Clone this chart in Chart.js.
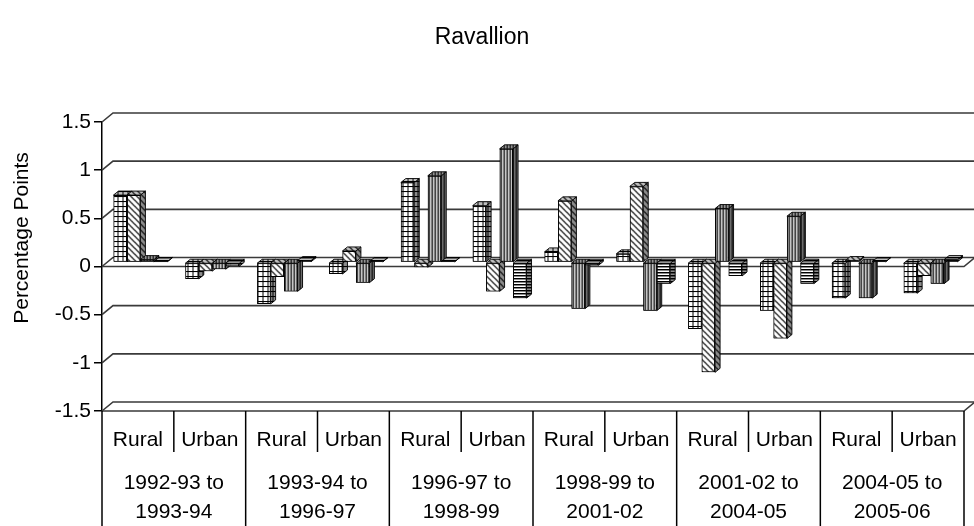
<!DOCTYPE html>
<html>
<head>
<meta charset="utf-8">
<title>Ravallion</title>
<script src="https://cdn.jsdelivr.net/npm/chart.js@4.4.1/dist/chart.umd.min.js"></script>
<style>
  html, body { margin: 0; padding: 0; background: #fff; }
  canvas { display: block; }
</style>
</head>
<body>
<canvas id="chart" width="974" height="526"></canvas>
<script>
// Category labels (inner level) and period labels (outer level)
const areas = ['Rural', 'Urban', 'Rural', 'Urban', 'Rural', 'Urban',
               'Rural', 'Urban', 'Rural', 'Urban', 'Rural', 'Urban'];
const periods = [
  ['1992-93 to', '1993-94'],
  ['1993-94 to', '1996-97'],
  ['1996-97 to', '1998-99'],
  ['1998-99 to', '2001-02'],
  ['2001-02 to', '2004-05'],
  ['2004-05 to', '2005-06']
];

// Four components, one value per area/period column (percentage points)
const gridSeries  = [0.70, -0.17, -0.43, -0.12, 0.83, 0.59, 0.11, 0.09, -0.69, -0.50, -0.37, -0.32];
const diagSeries  = [0.70, -0.09, -0.15, 0.12, -0.05, -0.30, 0.64, 0.79, -1.14, -0.79, 0.02, -0.14];
const vertSeries  = [0.03, -0.07, -0.30, -0.21, 0.90, 1.18, -0.48, -0.50, 0.56, 0.48, -0.37, -0.22];
const horizSeries = [0.01, -0.04, 0.02, 0.01, 0.01, -0.37, -0.03, -0.22, -0.14, -0.22, 0.01, 0.03];

const yTicks = { min: -1.5, max: 1.5, step: 0.5 };

const FONT = "'Liberation Sans', Arial, Helvetica, sans-serif";

// Monochrome fill patterns for the bars
function makePattern(kind) {
  const c = document.createElement('canvas');
  const g = c.getContext('2d');
  if (kind === 'grid') {
    c.width = 5; c.height = 5;
    g.fillStyle = '#fff'; g.fillRect(0, 0, 5, 5);
    g.fillStyle = '#000'; g.fillRect(0, 0, 5, 1); g.fillRect(0, 0, 1, 5);
  } else if (kind === 'diag') {
    c.width = 6; c.height = 6;
    g.fillStyle = '#fff'; g.fillRect(0, 0, 6, 6);
    g.strokeStyle = '#000'; g.lineWidth = 1.2;
    g.beginPath();
    g.moveTo(-1, -1); g.lineTo(7, 7);
    g.moveTo(-1, 5); g.lineTo(1, 7);
    g.moveTo(5, -1); g.lineTo(7, 1);
    g.stroke();
  } else if (kind === 'vert') {
    c.width = 3; c.height = 1;
    g.fillStyle = '#000'; g.fillRect(0, 0, 1, 1);
    g.fillStyle = '#8a8a8a'; g.fillRect(1, 0, 1, 1);
    g.fillStyle = '#fff'; g.fillRect(2, 0, 1, 1);
  } else {
    c.width = 1; c.height = 3;
    g.fillStyle = '#000'; g.fillRect(0, 0, 1, 1);
    g.fillStyle = '#8a8a8a'; g.fillRect(0, 1, 1, 1);
    g.fillStyle = '#fff'; g.fillRect(0, 2, 1, 1);
  }
  return g.createPattern(c, 'repeat');
}

const fills = [makePattern('grid'), makePattern('diag'), makePattern('vert'), makePattern('horiz')];

// Depth of the back wall and of each column
const WALL = { dx: 11, dy: -9 };
const BAR_SHIFT = { dx: 2.5, dy: -4 };
const BAR_DEPTH = { dx: 5, dy: 4 };

// Back wall, floor edges and gridlines in perspective
const wallPlugin = {
  id: 'wall',
  beforeDatasetsDraw(chart) {
    const { ctx, chartArea: a, scales: { y } } = chart;
    ctx.save();
    ctx.strokeStyle = '#3a3a3a';
    ctx.lineWidth = 1.6;
    for (let v = yTicks.min; v <= yTicks.max + 1e-9; v += yTicks.step) {
      const py = y.getPixelForValue(v);
      ctx.beginPath();
      ctx.moveTo(a.left, py);
      ctx.lineTo(a.left + WALL.dx, py + WALL.dy);
      ctx.lineTo(chart.width + 5, py + WALL.dy);
      ctx.stroke();
    }
    [0, yTicks.min].forEach(v => {
      const py = y.getPixelForValue(v);
      ctx.beginPath();
      ctx.moveTo(a.left, py);
      ctx.lineTo(a.right, py);
      ctx.lineTo(a.right + WALL.dx, py + WALL.dy);
      ctx.stroke();
    });
    ctx.restore();
    ctx.save();
    ctx.translate(BAR_SHIFT.dx, BAR_SHIFT.dy);
  },
  afterDatasetsDraw(chart) {
    const { ctx } = chart;
    const metas = chart.data.datasets.map((d, i) => chart.getDatasetMeta(i));
    const n = chart.data.labels.length;
    // Redraw each column left to right with its side and top faces
    for (let j = 0; j < n; j++) {
      metas.forEach((meta, i) => {
        const el = meta.data[j];
        if (!el) return;
        el.draw(ctx);
        const p = el.getProps(['x', 'y', 'base', 'width'], true);
        const l = p.x - p.width / 2, r = p.x + p.width / 2;
        const t = Math.min(p.y, p.base), b = Math.max(p.y, p.base);
        const faces = [
          { pts: [[r, t], [r + BAR_DEPTH.dx, t - BAR_DEPTH.dy], [r + BAR_DEPTH.dx, b - BAR_DEPTH.dy], [r, b]], shade: 'rgba(0,0,0,0.45)' },
          { pts: [[l, t], [l + BAR_DEPTH.dx, t - BAR_DEPTH.dy], [r + BAR_DEPTH.dx, t - BAR_DEPTH.dy], [r, t]], shade: 'rgba(0,0,0,0.25)' }
        ];
        faces.forEach(f => {
          ctx.beginPath();
          f.pts.forEach((pt, k) => k ? ctx.lineTo(pt[0], pt[1]) : ctx.moveTo(pt[0], pt[1]));
          ctx.closePath();
          ctx.fillStyle = fills[i];
          ctx.fill();
          ctx.fillStyle = f.shade;
          ctx.fill();
          ctx.strokeStyle = '#000';
          ctx.lineWidth = 0.9;
          ctx.stroke();
        });
      });
    }
    ctx.restore();
  },
  afterDraw(chart) {
    const { ctx, chartArea: a, scales: { x } } = chart;
    const n = chart.data.labels.length;
    const half = (x.getPixelForValue(1) - x.getPixelForValue(0)) / 2;
    ctx.save();
    ctx.strokeStyle = '#000';
    ctx.lineWidth = 1.5;
    for (let i = 0; i <= n; i++) {
      const px = i < n ? x.getPixelForValue(i) - half : x.getPixelForValue(n - 1) + half;
      ctx.beginPath();
      ctx.moveTo(px, a.bottom);
      ctx.lineTo(px, i % 2 === 0 ? chart.height : a.bottom + 41);
      ctx.stroke();
    }
    // Value axis title
    ctx.translate(22, a.top + 116);
    ctx.rotate(-Math.PI / 2);
    ctx.fillStyle = '#000';
    ctx.font = '21px ' + FONT;
    ctx.textAlign = 'center';
    ctx.textBaseline = 'middle';
    ctx.fillText('Percentage Points', 0, 0);
    ctx.restore();
  }
};

const seriesList = [gridSeries, diagSeries, vertSeries, horizSeries];

new Chart(document.getElementById('chart'), {
  type: 'bar',
  data: {
    labels: areas,
    datasets: seriesList.map((values, i) => ({
      data: values,
      backgroundColor: fills[i],
      borderColor: '#000',
      borderWidth: 1,
      borderSkipped: false,
      categoryPercentage: 0.75,
      barPercentage: 1.0
    }))
  },
  options: {
    responsive: false,
    animation: false,
    devicePixelRatio: 1,
    layout: { padding: { left: 0, right: 10, top: 0, bottom: 0 } },
    plugins: {
      legend: { display: false },
      tooltip: { enabled: false },
      title: {
        display: true,
        text: 'Ravallion',
        color: '#000',
        font: { family: FONT, size: 23, weight: 'normal', lineHeight: 1.2 },
        padding: { top: 24, bottom: 70.4 }
      }
    },
    scales: {
      x: {
        type: 'category',
        position: 'bottom',
        weight: 0,
        offset: true,
        grid: { display: false, drawTicks: false },
        border: { display: false },
        ticks: {
          color: '#000',
          font: { family: FONT, size: 21, lineHeight: 1.2 },
          padding: 16.4,
          autoSkip: false,
          maxRotation: 0,
          minRotation: 0
        },
        afterFit(s) { s.height = 50; }
      },
      x2: {
        type: 'category',
        position: 'bottom',
        weight: 1,
        labels: periods,
        offset: true,
        grid: { display: false, drawTicks: false },
        border: { display: false },
        ticks: {
          color: '#000',
          font: { family: FONT, size: 21, lineHeight: 1.38 },
          padding: 7.5,
          autoSkip: false,
          maxRotation: 0,
          minRotation: 0
        },
        afterFit(s) { s.height = 65; }
      },
      y: {
        type: 'linear',
        min: yTicks.min,
        max: yTicks.max,
        ticks: {
          stepSize: yTicks.step,
          color: '#000',
          font: { family: FONT, size: 21 },
          padding: 3,
          callback: v => String(Math.round(v * 10) / 10)
        },
        grid: { drawOnChartArea: false, drawTicks: true, tickLength: 8, color: '#000', lineWidth: 1.5 },
        border: { display: true, color: '#000', width: 1.5 },
        afterFit(s) { s.width = 102; }
      }
    }
  },
  plugins: [wallPlugin]
});
</script>
</body>
</html>
